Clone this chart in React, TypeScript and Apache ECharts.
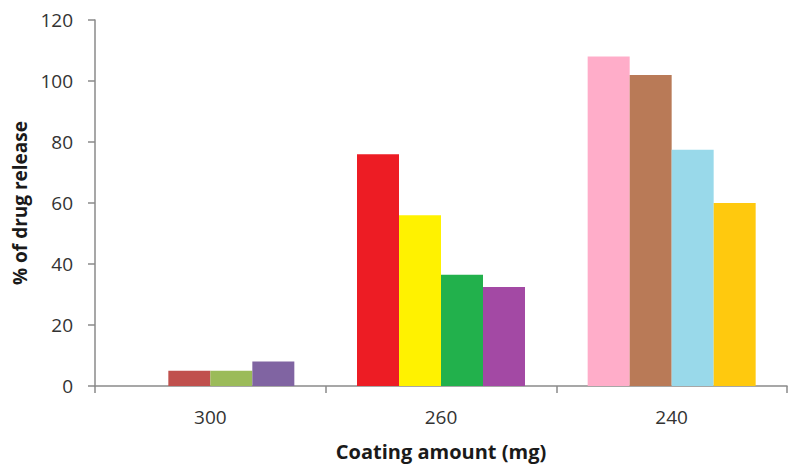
import React, { useEffect, useRef } from "react";
import * as echarts from "echarts";

// Coating amounts (mg) on the x axis
const categories = ["300", "260", "240"];

// Four bar slots per coating amount (% of drug release);
// the first 300 mg slot is empty.
const slot1 = [null, 76, 108];
const slot2 = [5, 56, 102];
const slot3 = [5, 36.5, 77.5];
const slot4 = [8, 32.5, 60];

// Bar colours per coating amount, one array per slot
const slot1Colors = ["#C0504D", "#ED1C24", "#FFADC9"];
const slot2Colors = ["#C0504D", "#FFF200", "#B97A57"];
const slot3Colors = ["#9BBB59", "#22B14C", "#99D9EA"];
const slot4Colors = ["#8064A2", "#A349A4", "#FFC90E"];

const yTicks = [0, 20, 40, 60, 80, 100, 120];

const FONT = "'Open Sans', 'Liberation Sans', sans-serif";
const AXIS_GRAY = "#8a8a8a";

export default function App() {
  const ref = useRef<HTMLDivElement>(null);

  useEffect(() => {
    if (!ref.current) return;
    const chart = echarts.init(ref.current, null, { renderer: "svg" });

    const slotValues = [slot1, slot2, slot3, slot4];
    const slotColors = [slot1Colors, slot2Colors, slot3Colors, slot4Colors];

    const series = slotValues.map((vals, si) => ({
      type: "bar" as const,
      barWidth: 42,
      barGap: "0%",
      data: vals.map((v, ci) => ({
        value: v,
        itemStyle: { color: slotColors[si][ci] },
      })),
    }));

    chart.setOption({
      animation: false,
      backgroundColor: "#ffffff",
      grid: { left: 95, right: 13, top: 20, bottom: 77, containLabel: false },
      xAxis: {
        type: "category",
        data: categories,
        name: "Coating amount (mg)",
        nameLocation: "middle",
        nameGap: 55,
        nameTextStyle: { fontFamily: FONT, fontWeight: "bold", fontSize: 20, color: "#1a1a1a" },
        axisLine: { show: true, lineStyle: { color: AXIS_GRAY, width: 1.5 } },
        axisTick: { show: true, length: 7, lineStyle: { color: AXIS_GRAY, width: 1.5 } },
        axisLabel: { fontFamily: FONT, fontSize: 19, color: "#333333", margin: 21 },
      },
      yAxis: {
        type: "value",
        min: yTicks[0],
        max: yTicks[yTicks.length - 1],
        interval: 20,
        name: "% of drug release",
        nameLocation: "middle",
        nameRotate: 90,
        nameGap: 66,
        nameTextStyle: { fontFamily: FONT, fontWeight: "bold", fontSize: 19, color: "#1a1a1a" },
        axisLine: { show: true, lineStyle: { color: AXIS_GRAY, width: 1.5 } },
        axisTick: { show: true, length: 7, lineStyle: { color: AXIS_GRAY, width: 1.5 } },
        axisLabel: { fontFamily: FONT, fontSize: 19, color: "#333333", margin: 22 },
        splitLine: { show: false },
      },
      series,
    });

    return () => chart.dispose();
  }, []);

  return (
    <div
      ref={ref}
      style={{ position: "absolute", left: 0, top: 0, width: 800, height: 466 }}
    />
  );
}
